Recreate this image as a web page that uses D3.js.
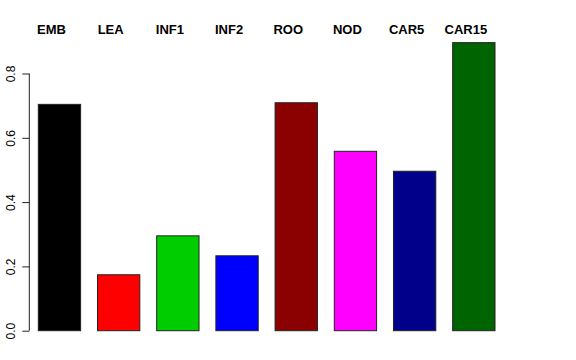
<!DOCTYPE html>
<html>
<head>
<meta charset="utf-8">
<script src="https://cdn.jsdelivr.net/npm/d3@7"></script>
<style>
  html, body { margin: 0; padding: 0; background: #fff; }
  svg { display: block; }
</style>
</head>
<body>
<script>
const categories = ["EMB", "LEA", "INF1", "INF2", "ROO", "NOD", "CAR5", "CAR15"];
const values = [0.704, 0.174, 0.295, 0.233, 0.709, 0.558, 0.496, 0.896];
const colors = ["#000000", "#FF0000", "#00CD00", "#0000FF", "#8B0000", "#FF00FF", "#00008B", "#006400"];
const yTicks = [0, 0.2, 0.4, 0.6, 0.8];
const yTickLabels = ["0.0", "0.2", "0.4", "0.6", "0.8"];

const W = 576, H = 360;
const svg = d3.select("body").append("svg").attr("width", W).attr("height", H);

const x = d3.scaleBand().domain(categories).range([38.3, 495]).paddingInner(0.285).paddingOuter(0);
const y = d3.scaleLinear().domain([0, 0.8]).range([330.7, 73.5]);

svg.append("g").selectAll("rect").data(categories).join("rect")
  .attr("x", d => x(d))
  .attr("y", (d, i) => y(values[i]))
  .attr("width", x.bandwidth())
  .attr("height", (d, i) => y(0) - y(values[i]))
  .attr("fill", (d, i) => colors[i])
  .attr("stroke", "#222")
  .attr("stroke-width", 1);

svg.append("g").selectAll("text").data(categories).join("text")
  .attr("x", d => x(d) + x.bandwidth() / 2 - 8)
  .attr("y", 34.3)
  .attr("text-anchor", "middle")
  .attr("font-family", "Liberation Sans, Arial, Helvetica, sans-serif")
  .attr("font-weight", "bold")
  .attr("font-size", 13)
  .text(d => d);

const axis = d3.axisLeft(y).tickValues(yTicks).tickSize(7).tickFormat((d, i) => yTickLabels[i]);
const ag = svg.append("g").attr("transform", "translate(29.3,0)").call(axis);
ag.select(".domain").attr("d", `M0,${y(0)}V${y(0.8)}`).attr("stroke", "#222");
ag.selectAll(".tick line").attr("stroke", "#222");
ag.selectAll(".tick text")
  .attr("font-family", "Liberation Sans, Arial, Helvetica, sans-serif")
  .attr("font-size", 12)
  .attr("fill", "#000")
  .attr("text-anchor", "middle")
  .attr("transform", "rotate(-90)")
  .attr("x", 0)
  .attr("dy", 0)
  .attr("y", -14);
</script>
</body>
</html>
